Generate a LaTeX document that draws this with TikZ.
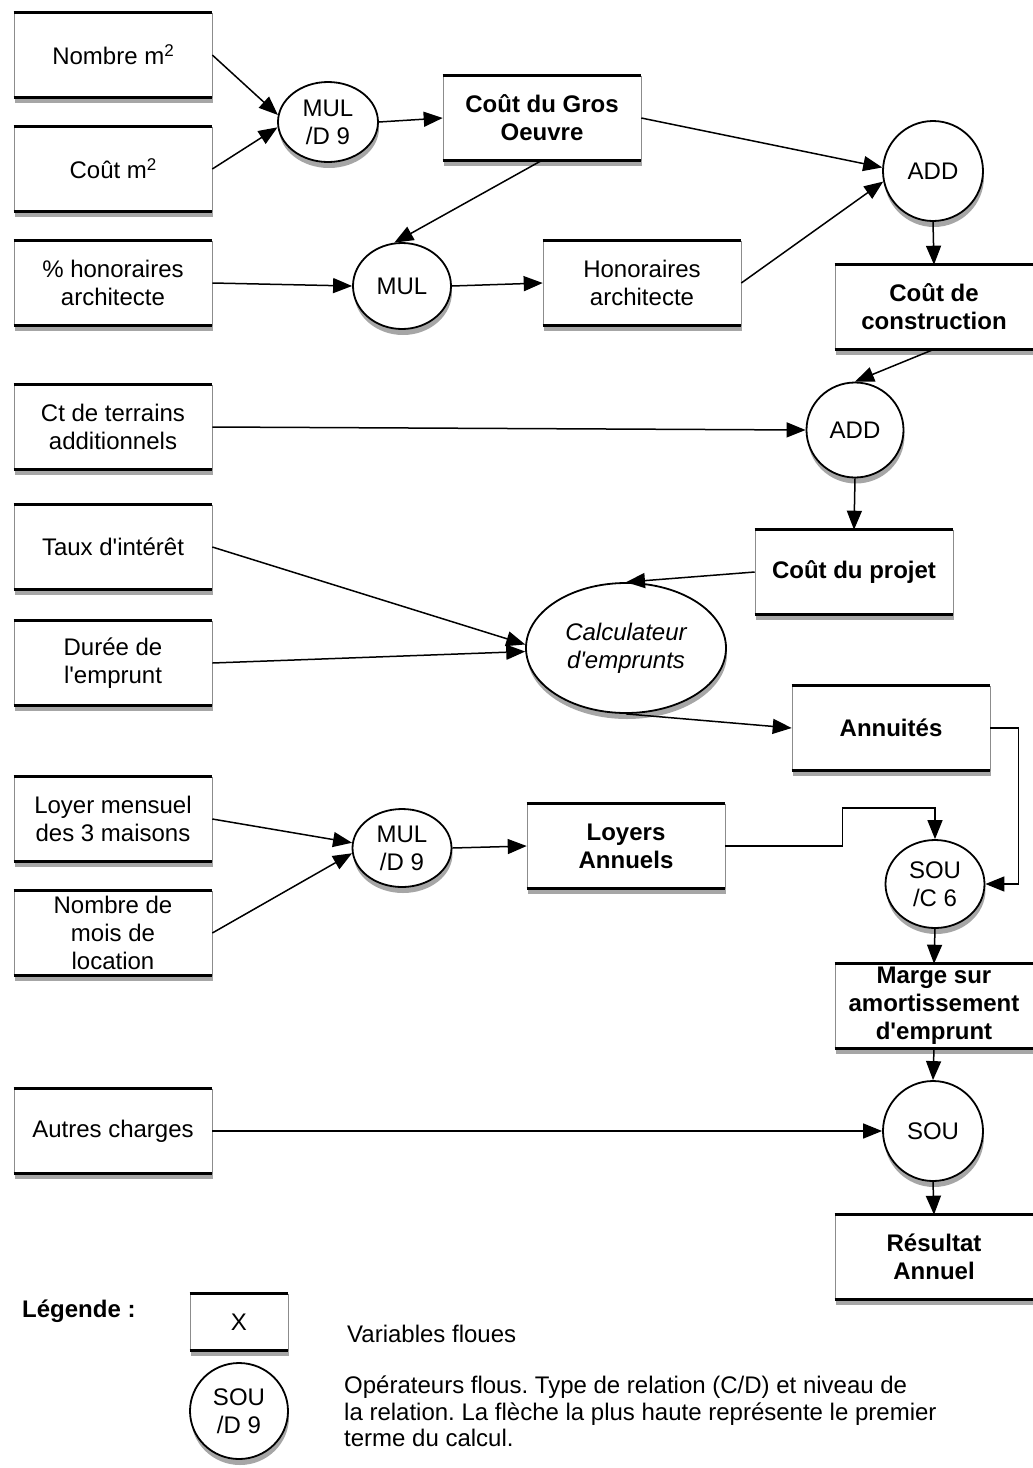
\documentclass[tikz,border=0pt]{standalone}
\usepackage{fontspec}
\setmainfont{Liberation Sans}
\usetikzlibrary{arrows.meta,shapes.geometric,shadows,calc}
\newcommand{\sqm}{\raisebox{8pt}{\fontsize{17}{17}\selectfont 2}}
\begin{document}
\frenchspacing
\begin{tikzpicture}[x=1pt,y=-1pt,
  font=\fontsize{24}{28}\selectfont,
  shad/.style={drop shadow={shadow xshift=1pt,shadow yshift=-6pt,opacity=0.35,fill=black}},
  var/.style={rectangle,draw=black!45,line width=0.6pt,fill=white,shad,
    minimum width=198pt,minimum height=84pt,inner sep=2pt,align=center},
  bvar/.style={var,font=\fontsize{24}{28}\selectfont\bfseries},
  op/.style={ellipse,draw,line width=1.8pt,fill=white,shad,inner sep=0pt,align=center},
  arr/.style={line width=1.5pt,-{Triangle[length=19pt,width=15pt]}},
  bar/.style={line width=2.6pt}]
\useasboundingbox (0,0) rectangle (1033,1468);
\fill[white] (0,0) rectangle (1033,1468);

% left column variables
\node[var] (nombre) at (113,55) {Nombre m\sqm};
\node[var] (cout) at (113,169) {Coût m\sqm};
\node[var] (pct) at (113,283) {\% honoraires\\architecte};
\node[var] (terr) at (113,427) {Ct de terrains\\additionnels};
\node[var] (taux) at (113,547) {Taux d\textquotesingle intérêt};
\node[var] (duree) at (113,663) {Durée de\\l\textquotesingle emprunt};
\node[var] (loyer) at (113,819) {Loyer mensuel\\des 3 maisons};
\node[var] (nbmois) at (113,933) {Nombre de\\mois de\\location};
\node[var] (autres) at (113,1131) {Autres charges};

% other variables
\node[bvar] (gros) at (542,118) {Coût du Gros\\Oeuvre};
\node[var] (hon) at (642,283) {Honoraires\\architecte};
\node[bvar] (constr) at (934,307) {Coût de\\construction};
\node[bvar] (projet) at (854,572) {Coût du projet};
\node[bvar] (annu) at (891,728) {Annuités};
\node[bvar] (loyers) at (626,846) {Loyers\\Annuels};
\node[bvar] (marge) at (934,1006) {Marge sur\\amortissement\\d\textquotesingle emprunt};
\node[bvar] (result) at (934,1257) {Résultat\\Annuel};

% operators
\node[op,minimum width=100pt,minimum height=80pt] (mul1) at (328,122) {MUL\\/D 9};
\node[op,minimum width=98pt,minimum height=86pt] (mul2) at (402,286) {MUL};
\node[op,minimum width=100pt,minimum height=100pt] (add1) at (933,171) {ADD};
\node[op,minimum width=97pt,minimum height=95pt] (add2) at (855,430) {ADD};
\node[op,minimum width=200pt,minimum height=130pt,font=\fontsize{24}{28}\selectfont\itshape] (calc) at (626,648) {Calculateur\\d\textquotesingle emprunts};
\node[op,minimum width=99pt,minimum height=78pt] (mul3) at (402,848) {MUL\\/D 9};
\node[op,minimum width=99pt,minimum height=88pt] (sou6) at (935,884) {SOU\\/C 6};
\node[op,minimum width=100pt,minimum height=100pt] (sou) at (933,1131) {SOU};

% legend
\node[anchor=west,inner sep=0pt,font=\fontsize{24}{28}\selectfont\bfseries] (leg) at (22,1311) {Légende :};
\node[var,minimum width=98pt,minimum height=56pt] (legx) at (239,1322) {X};
\node[anchor=west,inner sep=0pt] (legxt) at (347,1334) {Variables floues};
\node[op,minimum width=98pt,minimum height=96pt] (lego) at (239,1411) {SOU\\/D 9};
\node[anchor=north west,align=left,inner sep=0pt,font=\fontsize{24}{26.5}\selectfont] (legot) at (344,1376) {Opérateurs flous. Type de relation (C/D) et niveau de\\la relation. La flèche la plus haute représente le premier\\terme du calcul.};

% thick top/bottom rules of the variable boxes
\foreach \n in {nombre,cout,pct,terr,taux,duree,loyer,nbmois,autres,gros,hon,constr,projet,annu,loyers,marge,result,legx}
  \draw[bar] (\n.north west) -- (\n.north east) (\n.south west) -- (\n.south east);

% connectors
\draw[arr] (nombre.east) -- (mul1.172);
\draw[arr] (cout.east) -- (mul1.186);
\draw[arr] (mul1.east) -- (gros.west);
\draw[arr] (gros.east) -- (add1.176);
\draw[arr] (gros.south) -- (mul2.100);
\draw[arr] (pct.east) -- (mul2.west);
\draw[arr] (mul2.east) -- (hon.west);
\draw[arr] (hon.east) -- (add1.192);
\draw[arr] (add1.south) -- (constr.north);
\draw[arr] (constr.south) -- (add2.north);
\draw[arr] (terr.east) -- (add2.west);
\draw[arr] (add2.south) -- (projet.north);
\draw[arr] (projet.west) -- (calc.north);
\draw[arr] (taux.east) -- (calc.178);
\draw[arr] (duree.east) -- (calc.182);
\draw[arr] (calc.south) -- (annu.west);
\draw[arr] (annu.east) -- ++(28,0) |- (sou6.east);
\draw[arr] (loyer.east) -- (mul3.174);
\draw[arr] (nbmois.east) -- (mul3.186);
\draw[arr] (mul3.east) -- (loyers.west);
\draw[arr] (loyers.east) -- ++(117,0) |- ([yshift=31pt]sou6.north) -- (sou6.north);
\draw[arr] (sou6.south) -- (marge.north);
\draw[arr] (marge.south) -- (sou.north);
\draw[arr] (autres.east) -- (sou.west);
\draw[arr] (sou.south) -- (result.north);
\end{tikzpicture}
\end{document}
